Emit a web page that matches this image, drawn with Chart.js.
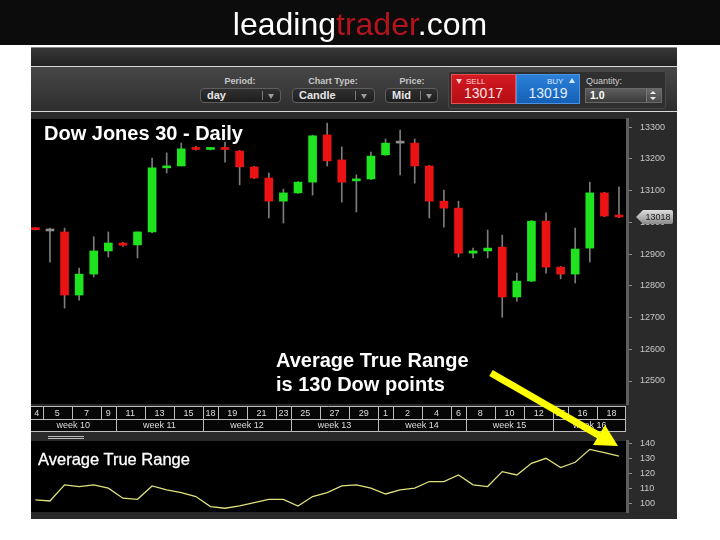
<!DOCTYPE html>
<html><head><meta charset="utf-8">
<script src="https://cdn.jsdelivr.net/npm/chart.js@4.4.1/dist/chart.umd.min.js"></script>
<style>
*{box-sizing:border-box}
html,body{margin:0;padding:0;width:720px;height:540px;background:#fff;overflow:hidden;font-family:"Liberation Sans",Arial,sans-serif}
.abs{position:absolute}
#banner{left:0;top:0;width:720px;height:45px;background:#0c0c0c}
#frame{left:31px;top:47px;width:646px;height:472px;background:#2a2a2a;border-top:1px solid #8a8a8a}
#strip{left:31px;top:48px;width:646px;height:18px;background:linear-gradient(#383838,#222)}
.hl{height:1px;background:#d8d8d8;left:31px;width:646px}
#toolbar{left:31px;top:67px;width:646px;height:44px;background:linear-gradient(#474747,#2e2e2e)}
.lbl{font-size:9px;font-weight:bold;color:#c6c6c6;text-align:center;line-height:10px;top:76px}
.dd{top:88px;height:15px;border:1px solid #5e5e5e;border-radius:4px;background:linear-gradient(#303030,#1e1e1e);color:#e6e6e6;font-size:11px;font-weight:bold;line-height:13px;padding-left:6px}
.sep{position:absolute;top:2px;width:1px;height:9px;background:#7a7a7a}
.arr{position:absolute;top:5px;width:0;height:0;border-left:3.5px solid transparent;border-right:3.5px solid transparent;border-top:5px solid #9a9a9a}
#trade{left:448px;top:71px;width:218px;height:38px;background:#2f2f2f;border:1px solid #474747;border-radius:3px}
.box{top:74px;height:30px;color:#fff}
.big{position:absolute;left:0;width:100%;text-align:center;top:11px;font-size:14px;line-height:15px}
.small{position:absolute;top:2px;font-size:8px;line-height:9px}
#q{left:586px;top:76px;font-size:9px;color:#cfcfcf;line-height:10px}
#qin{left:585px;top:88px;width:77px;height:15px;background:linear-gradient(#5d5d5d,#3c3c3c);border:1px solid #6a6a6a;color:#fff;font-size:10.5px;font-weight:bold;line-height:13px;padding-left:4px}
#icon1,#icon2{left:48px;width:36px;height:1px;background:#bbb}
</style></head>
<body>
<div id="banner" class="abs"></div>
<div id="frame" class="abs"></div>
<div id="strip" class="abs"></div>
<div class="abs hl" style="top:66px"></div>
<div id="toolbar" class="abs"></div>
<div class="abs hl" style="top:111px"></div>

<div class="abs lbl" style="left:200px;width:80px">Period:</div>
<div class="abs lbl" style="left:292px;width:82px">Chart Type:</div>
<div class="abs lbl" style="left:386px;width:52px">Price:</div>
<div class="abs dd" style="left:200px;width:81px">day<div class="sep" style="left:61px"></div><div class="arr" style="left:67px"></div></div>
<div class="abs dd" style="left:292px;width:83px">Candle<div class="sep" style="left:62px"></div><div class="arr" style="left:68px"></div></div>
<div class="abs dd" style="left:385px;width:53px">Mid<div class="sep" style="left:34px"></div><div class="arr" style="left:40px"></div></div>

<div id="trade" class="abs"></div>
<div class="abs box" style="left:451px;width:65px;background:linear-gradient(#d41a22,#b40d14);border:1px solid #e25050">
  <div class="abs" style="left:4px;top:4px;width:0;height:0;border-left:3px solid transparent;border-right:3px solid transparent;border-top:5px solid #ffd0d0"></div>
  <div class="small" style="left:14px;color:#ffd8d8">SELL</div>
  <div class="big" id="sellTxt" style="color:#ffe2e2"></div>
</div>
<div class="abs box" style="left:516px;width:64px;background:linear-gradient(#2b80d8,#1560b6);border:1px solid #4a92e2">
  <div class="small" style="left:30px;color:#d8e8ff">BUY</div>
  <div class="abs" style="left:52px;top:3px;width:0;height:0;border-left:3px solid transparent;border-right:3px solid transparent;border-bottom:5px solid #d8e8ff"></div>
  <div class="big" id="buyTxt" style="color:#e2eeff"></div>
</div>
<div id="q" class="abs">Quantity:</div>
<div id="qin" class="abs">1.0
  <div class="abs" style="left:60px;top:0;width:15px;height:13px;background:linear-gradient(#6a6a6a,#4a4a4a);border-left:1px solid #777"></div>
  <div class="abs" style="left:64px;top:2px;width:0;height:0;border-left:3px solid transparent;border-right:3px solid transparent;border-bottom:3px solid #eee"></div>
  <div class="abs" style="left:64px;top:8px;width:0;height:0;border-left:3px solid transparent;border-right:3px solid transparent;border-top:3px solid #eee"></div>
</div>

<div class="abs" style="left:31px;top:113px;width:646px;height:320px"><canvas id="main" width="646" height="320"></canvas></div>
<div id="icon1" class="abs" style="top:436px"></div>
<div id="icon2" class="abs" style="top:438px"></div>
<div class="abs" style="left:31px;top:433px;width:646px;height:86px"><canvas id="atr" width="646" height="86"></canvas></div>

<svg class="abs" style="left:0;top:0;pointer-events:none" width="720" height="540">
  <text x="360" y="35" text-anchor="middle" font-family="Liberation Sans, Arial" font-size="32" fill="#ffffff">leading<tspan fill="#b5141d">trader</tspan>.com</text>
  <text x="44" y="140" font-family="Liberation Sans, Arial" font-weight="bold" font-size="20" fill="#ffffff">Dow Jones 30 - Daily</text>
  <text x="276" y="367" font-family="Liberation Sans, Arial" font-weight="bold" font-size="20" fill="#ffffff">Average True Range</text>
  <text x="276" y="391" font-family="Liberation Sans, Arial" font-weight="bold" font-size="20" fill="#ffffff">is 130 Dow points</text>
  <text x="38" y="465" font-family="Liberation Sans, Arial" font-size="16.5" fill="#ffffff" stroke="#ffffff" stroke-width="0.3">Average True Range</text>
  <line x1="491" y1="373" x2="600" y2="436" stroke="#ffff00" stroke-width="7"/>
  <polygon points="618,446 593,445 605,425" fill="#ffff00"/>
</svg>

<script>
// ---- data ----
const days = ['Mar 4','Mar 5','Mar 6','Mar 7','Mar 8','Mar 9',
  'Mar 11','Mar 12','Mar 13','Mar 14','Mar 15','Mar 16',
  'Mar 18','Mar 19','Mar 20','Mar 21','Mar 22','Mar 23',
  'Mar 25','Mar 26','Mar 27','Mar 28','Mar 29','Mar 30',
  'Apr 1','Apr 2','Apr 3','Apr 4','Apr 5','Apr 6',
  'Apr 8','Apr 9','Apr 10','Apr 11','Apr 12','Apr 13',
  'Apr 15','Apr 16','Apr 17','Apr 18','Apr 19'];
const opens  = [12981,12973,12970,12771,12837,12910,12935,12929,12970,13172,13178,13234,13230,13234,13225,13175,13140,13067,13093,13127,13276,13197,13131,13137,13213,13250,13250,13178,13067,13045,12903,12910,12922,12765,12815,13004,12859,12837,12919,13093,13020];
const highs  = [12983,12982,12982,12856,12955,12970,12937,12970,13203,13219,13250,13240,13236,13253,13227,13177,13156,13105,13129,13275,13313,13238,13150,13222,13263,13291,13263,13180,13102,13067,12919,12976,12960,12840,13006,13030,12861,12982,13127,13095,13112];
const lows   = [12976,12875,12730,12755,12828,12891,12924,12888,12968,13156,13178,13228,13228,13190,13118,13138,13014,12998,13091,13086,13178,13064,13033,13135,13211,13150,13124,13014,12985,12891,12888,12888,12701,12752,12813,12840,12822,12809,12875,13018,13015];
const closes = [12977,12973,12771,12837,12910,12935,12928,12970,13172,13176,13232,13230,13234,13230,13175,13140,13067,13093,13127,13273,13194,13127,13137,13209,13250,13250,13178,13067,13045,12903,12910,12919,12765,12815,13004,12859,12837,12916,13093,13020,13017];
const atr = [102.7,102.0,112.6,111.5,112.6,110.4,103.8,103.1,111.9,109.3,107.5,104.9,98.3,97.2,98.7,100.9,103.1,103.1,98.7,104.9,107.5,111.9,112.6,110.4,106.6,109.3,110.4,114.8,114.8,119.1,112.6,111.5,121.3,119.1,126.8,130.1,124.0,127.5,136.0,133.8,131.6];
const priceTicks = [12500,12600,12700,12800,12900,13000,13100,13200,13300];
const atrTicks = [100,110,120,130,140];
const dateTickDays = ['Mar 4','Mar 5','Mar 7','Mar 9','Mar 11','Mar 13','Mar 15','Mar 18','Mar 19','Mar 21','Mar 23','Mar 25','Mar 27','Mar 29','Apr 1','Apr 2','Apr 4','Apr 6','Apr 8','Apr 10','Apr 12','Apr 15','Apr 16','Apr 18'];
const weekLabels = ['week 10','week 11','week 12','week 13','week 14','week 15','week 16'];
const weekStarts = ['Mar 4','Mar 11','Mar 18','Mar 25','Apr 1','Apr 8','Apr 15'];
const sellPrice = 13017, buyPrice = 13019;

document.getElementById('sellTxt').textContent = sellPrice;
document.getElementById('buyTxt').textContent = buyPrice;

const GREEN = '#1fe31f', RED = '#ea1212', GRAY = '#8c8c8c';
const bodyColors = opens.map((o,i)=> closes[i] > o ? GREEN : (closes[i] < o ? RED : GRAY));

const xMin = -0.3, xMax = days.length - 0.45;

const blackArea = {
  id:'blackArea',
  beforeDraw(chart){
    const {ctx, chartArea:a} = chart;
    ctx.save(); ctx.fillStyle = '#000'; ctx.fillRect(a.left, a.top, a.right-a.left, a.bottom-a.top); ctx.restore();
  }
};

function rightAxis(ticksArr, min, max){
  return {
    position:'right', min, max,
    afterBuildTicks(s){ s.ticks = ticksArr.map(v=>({value:v})); },
    afterFit(s){ s.width = 50; s.paddingTop = 0; s.paddingBottom = 0; },
    grid:{drawOnChartArea:false, drawTicks:true, tickLength:5, color:'#8a8a8a', lineWidth:1},
    border:{display:true, color:'#5e5e5e', width:3},
    ticks:{color:'#c8c8c8', padding:8, font:{family:'Liberation Sans', size:9}, callback:v=>String(v)}
  };
}

const dateRows = {
  id:'dateRows',
  afterDraw(chart){
    const {ctx, chartArea:a} = chart; const x = chart.scales.x;
    const n = days.length;
    const L = a.left, R = Math.round(x.getPixelForValue(n - 0.5));
    const y0 = a.bottom + 2, y1 = y0 + 13, y2 = y1 + 12;
    ctx.save();
    ctx.fillStyle = '#060606'; ctx.fillRect(L, y0, R-L, y2-y0);
    ctx.strokeStyle = '#bcbcbc'; ctx.lineWidth = 1;
    ctx.beginPath();
    [y0,y1,y2].forEach(y=>{ ctx.moveTo(L, y+0.5); ctx.lineTo(R, y+0.5); });
    ctx.moveTo(R-0.5, y0); ctx.lineTo(R-0.5, y2+1);
    const idx = dateTickDays.map(d=>days.indexOf(d));
    idx.forEach((k,j)=>{ if (j>0){ const s = Math.round(x.getPixelForValue(k-0.5))+0.5; ctx.moveTo(s, y0); ctx.lineTo(s, y1); } });
    weekStarts.forEach((d,j)=>{ if (j>0){ const s = Math.round(x.getPixelForValue(days.indexOf(d)-0.5))+0.5; ctx.moveTo(s, y1); ctx.lineTo(s, y2); } });
    ctx.stroke();
    ctx.fillStyle = '#dedede'; ctx.textAlign = 'center'; ctx.textBaseline = 'middle';
    ctx.font = '9px "Liberation Sans"';
    idx.forEach((k,j)=>{
      const s = Math.max(L, x.getPixelForValue(k-0.5));
      const e = j < idx.length-1 ? x.getPixelForValue(idx[j+1]-0.5) : R;
      ctx.fillText(dateTickDays[j].split(' ')[1], (s+e)/2, (y0+y1)/2+1);
    });
    weekStarts.forEach((d,j)=>{
      const s = Math.max(L, x.getPixelForValue(days.indexOf(d)-0.5));
      const e = j < weekStarts.length-1 ? x.getPixelForValue(days.indexOf(weekStarts[j+1])-0.5) : R;
      ctx.fillText(weekLabels[j], (s+e)/2, (y1+y2)/2+1);
    });
    ctx.restore();
  }
};

const priceTag = {
  id:'priceTag',
  afterDraw(chart){
    const {ctx} = chart; const ys = chart.scales.y;
    const mid = (sellPrice + buyPrice)/2;
    const y = Math.round(ys.getPixelForValue(mid));
    const ax = ys.left;
    ctx.save();
    const g = ctx.createLinearGradient(0, y-7, 0, y+7);
    g.addColorStop(0,'#dedede'); g.addColorStop(1,'#8a8a8a');
    ctx.fillStyle = g;
    ctx.beginPath();
    ctx.moveTo(ax+9, y); ctx.lineTo(ax+16, y-7); ctx.lineTo(ax+44, y-7);
    ctx.quadraticCurveTo(ax+46, y-7, ax+46, y-5); ctx.lineTo(ax+46, y+5);
    ctx.quadraticCurveTo(ax+46, y+7, ax+44, y+7); ctx.lineTo(ax+16, y+7); ctx.closePath();
    ctx.fill();
    ctx.fillStyle = '#222'; ctx.font = '9px "Liberation Sans"'; ctx.textAlign='center'; ctx.textBaseline='middle';
    ctx.fillText(String(mid), ax+31, y+1);
    ctx.restore();
  }
};

new Chart(document.getElementById('main'), {
  type:'bar',
  data:{
    datasets:[
      { label:'Body', data: days.map((d,i)=>({x:i, y:[opens[i], closes[i]]})),
        backgroundColor: bodyColors, borderWidth:0, grouped:false, barThickness:8, maxBarThickness:8, minBarLength:2, order:1 },
      { label:'Wick', data: days.map((d,i)=>({x:i, y:[lows[i], highs[i]]})),
        backgroundColor:'#7c7c7c', borderWidth:0, grouped:false, barThickness:1, maxBarThickness:1, order:2 }
    ]
  },
  options:{
    responsive:false, animation:false, events:[],
    layout:{padding:{top:6, bottom:29, left:0, right:0}},
    plugins:{legend:{display:false}, tooltip:{enabled:false}},
    scales:{
      x:{type:'linear', min:xMin, max:xMax, display:false, offset:false},
      y: rightAxis(priceTicks, 12427.5, 13326)
    }
  },
  plugins:[blackArea, dateRows, priceTag]
});

new Chart(document.getElementById('atr'), {
  type:'line',
  data:{ datasets:[{ label:'ATR', data: days.map((d,i)=>({x:i, y:atr[i]})),
    borderColor:'#e0e07c', borderWidth:1.3, pointRadius:0, tension:0, fill:false }] },
  options:{
    responsive:false, animation:false, events:[],
    layout:{padding:{top:8, bottom:7, left:0, right:0}},
    plugins:{legend:{display:false}, tooltip:{enabled:false}},
    scales:{
      x:{type:'linear', min:xMin, max:xMax, display:false, offset:false},
      y: rightAxis(atrTicks, 94.73, 141.5)
    }
  },
  plugins:[blackArea]
});
</script>
</body></html>
